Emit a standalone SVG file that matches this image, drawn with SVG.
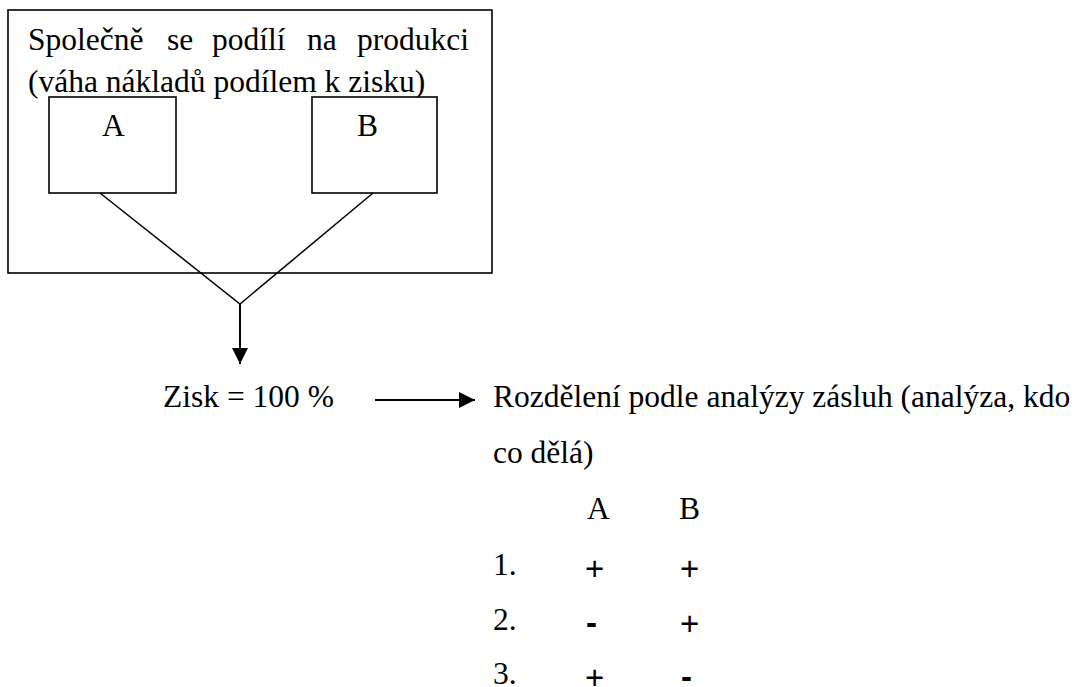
<svg xmlns="http://www.w3.org/2000/svg" width="1080" height="687" viewBox="0 0 1080 687">
  <style>
    .box { fill: #fff; stroke: #000; stroke-width: 1.6; }
    .txt { font-family: 'Liberation Serif', 'DejaVu Serif', serif; font-size: 31.5px; fill: #000; }
    .sym { font-family: 'Liberation Sans', Arial, sans-serif; font-size: 33px; fill: #000; }
    .line { fill: none; stroke: #000; stroke-width: 1.5; }
    .arrow { fill: none; stroke: #000; stroke-width: 2; }
  </style>
  <defs>
    <marker id="head" viewBox="0 0 16 16" refX="16" refY="8" markerWidth="16" markerHeight="16" markerUnits="userSpaceOnUse" orient="auto">
      <path d="M0,0 L16,8 L0,16 Z" fill="#000"/>
    </marker>
  </defs>

  <rect width="1080" height="687" fill="#fff"/>

  <!-- shared production frame -->
  <g id="production">
    <rect class="box" x="8" y="10" width="484" height="263"/>
    <text class="txt" font-family="Liberation Serif, serif" y="50">
      <tspan x="28">Společně</tspan>
      <tspan x="167">se</tspan>
      <tspan x="212">podílí</tspan>
      <tspan x="307">na</tspan>
      <tspan x="357">produkci</tspan>
    </text>
    <text class="txt" x="28" y="92">(váha nákladů podílem k zisku)</text>
  </g>

  <g id="partner-a">
    <rect class="box" x="49" y="97" width="127" height="96"/>
    <text class="txt" x="102" y="136">A</text>
  </g>

  <g id="partner-b">
    <rect class="box" x="312" y="97" width="125" height="96"/>
    <text class="txt" x="357" y="136">B</text>
  </g>

  <!-- connectors -->
  <g id="connectors">
    <polyline class="line" points="100,193 240,304 373,193"/>
    <line class="arrow" x1="240" y1="304" x2="240" y2="364" marker-end="url(#head)"/>
    <line class="arrow" x1="375" y1="400" x2="475" y2="400" marker-end="url(#head)"/>
  </g>

  <g id="profit">
    <text class="txt" x="163" y="407">Zisk = 100 %</text>
  </g>

  <g id="distribution">
    <text class="txt" x="493" y="407">Rozdělení podle analýzy zásluh (analýza, kdo</text>
    <text class="txt" x="493" y="463">co dělá)</text>
  </g>

  <!-- merit table -->
  <g id="merit-table">
    <text class="txt" x="587" y="519">A</text>
    <text class="txt" x="679" y="519">B</text>
    <text class="txt" x="493" y="575">1.</text>
    <text class="txt" x="493" y="630">2.</text>
    <text class="txt" x="493" y="684">3.</text>
    <text class="sym" x="585" y="580">+</text>
    <text class="sym" x="680" y="580">+</text>
    <text class="sym" x="586" y="634" font-weight="bold">-</text>
    <text class="sym" x="680" y="635">+</text>
    <text class="sym" x="585" y="689">+</text>
    <text class="sym" x="681" y="688" font-weight="bold">-</text>
  </g>
</svg>
